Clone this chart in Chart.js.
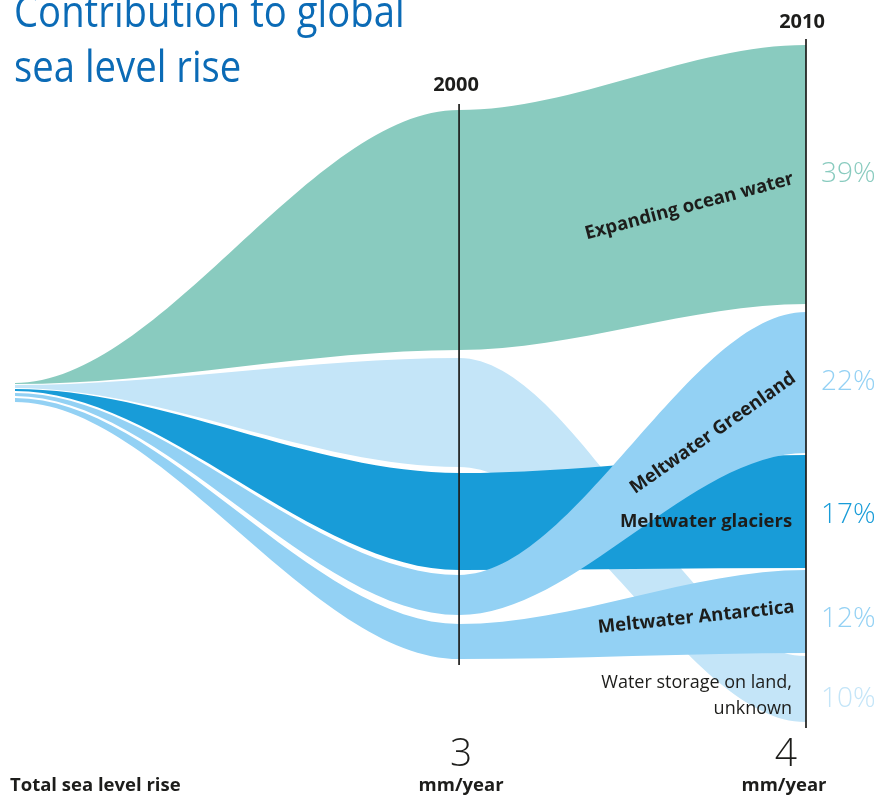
<!DOCTYPE html>
<html lang="en">
<head>
<meta charset="utf-8">
<title>Contribution to global sea level rise</title>
<script src="https://cdn.jsdelivr.net/npm/chart.js@4.4.1/dist/chart.umd.min.js"></script>
<style>
    html, body { margin: 0; padding: 0; background: #fff; }
    #wrap { position: relative; width: 882px; height: 799px; overflow: hidden; font-family: "Open Sans", "Noto Sans", sans-serif; color: #1d1d1b; }
    #chartBox { position: absolute; left: 0; top: 0; width: 882px; height: 799px; }
    .lbl { position: absolute; white-space: nowrap; line-height: 1; }
    .title { left: 14px; top: -17px; color: #0b6bb6; font-size: 43px; line-height: 55px; transform: scaleX(0.89); transform-origin: 0 0; }
    .note { text-align: right; font-size: 18px; line-height: 26px; }
</style>
</head>
<body>
<div id="wrap">
    <div id="chartBox"><canvas id="chartFlow"></canvas></div>
    <div class="lbl title">Contribution to global<br>sea level rise</div>
</div>
<script>
const fanYear = 1987.2;              // where the total splits into its parts
const years = [2000, 2010];
const totals = ['3', '4'];
const unit = 'mm/year';
const shares2010 = ['39%', '22%', '17%', '12%', '10%'];

// band edges in mm/year, 0 = foot of the 2010 column
// values at the split, in 2000 and in 2010
const oceanTop         = [2.003, 3.616, 4.000];
const oceanBottom      = [1.997, 2.198, 2.470];
const landTop          = [1.991, 2.151, 0.390];
const landBottom       = [1.973, 1.507, 0.000];
const glaciersTop      = [1.967, 1.471, 1.578];
const glaciersBottom   = [1.956, 0.898, 0.910];
const greenlandTop     = [1.944, 0.869, 2.422];
const greenlandBottom  = [1.926, 0.632, 1.589];
const antarcticaTop    = [1.914, 0.579, 0.898];
const antarcticaBottom = [1.891, 0.372, 0.408];

const wrap = document.getElementById('wrap');

// first band is painted last (on top)
const bands = [
    { name: 'Meltwater Greenland', top: greenlandTop, bottom: greenlandBottom, color: '#93d1f4' },
    { name: 'Meltwater Antarctica', top: antarcticaTop, bottom: antarcticaBottom, color: '#93d1f4' },
    { name: 'Meltwater glaciers', top: glaciersTop, bottom: glaciersBottom, color: '#189cd8' },
    { name: 'Expanding ocean water', top: oceanTop, bottom: oceanBottom, color: '#89cbbf' },
    { name: 'Water storage on land, unknown', top: landTop, bottom: landBottom, color: '#c4e5f8' }
];

// every value is given twice so the curve leaves and reaches it level
const stages = [fanYear, ...years];
const edge = vals => stages.flatMap((x, i) => [{ x, y: vals[i] }, { x, y: vals[i] }]);

const lineBase = { borderWidth: 0, borderColor: 'transparent', pointRadius: 0, cubicInterpolationMode: 'monotone' };

const datasets = bands.flatMap((b, i) => [
    { ...lineBase, label: b.name + ' (top)', data: edge(b.top), fill: false },
    { ...lineBase, label: b.name, data: edge(b.bottom), fill: 2 * i, backgroundColor: b.color }
]);

const allEdges = bands.flatMap(b => [b.top, b.bottom]);

const markerLines = {
    id: 'markerLines',
    afterDatasetsDraw(chart) {
        const { ctx, scales: { x, y } } = chart;
        ctx.save();
        ctx.strokeStyle = '#1d1d1b';
        ctx.lineWidth = 1.7;
        years.forEach((yr, i) => {
            const px = x.getPixelForValue(yr);
            const hi = Math.max(...allEdges.map(e => e[i + 1]));
            const lo = Math.min(...allEdges.map(e => e[i + 1]));
            ctx.beginPath();
            ctx.moveTo(px, y.getPixelForValue(hi) - 6);
            ctx.lineTo(px, y.getPixelForValue(lo) + 6);
            ctx.stroke();
        });
        ctx.restore();
    }
};

const chart = new Chart(document.getElementById('chartFlow'), {
    type: 'line',
    data: { datasets },
    options: {
        responsive: true, maintainAspectRatio: false,
        animation: false, events: [],
        layout: { padding: { left: 15, right: 76, top: 45, bottom: 77 } },
        plugins: { legend: { display: false }, tooltip: { enabled: false } },
        scales: {
            x: { type: 'linear', display: false, min: fanYear, max: 2010 },
            y: { display: false, min: 0, max: 4 }
        }
    },
    plugins: [markerLines]
});

function place(text, o) {
    const el = document.createElement('div');
    el.className = 'lbl' + (o.cls ? ' ' + o.cls : '');
    el.textContent = text;
    const tx = o.align === 'left' ? '0' : o.align === 'right' ? '-100%' : '-50%';
    Object.assign(el.style, {
        left: o.x + 'px', top: o.y + 'px',
        fontSize: o.size + 'px', fontWeight: o.weight || 400,
        color: o.color || '#1d1d1b',
        transform: `translate(${tx}, -50%) rotate(${o.rotate || 0}deg)`
    });
    wrap.appendChild(el);
    return el;
}

const xs = chart.scales.x;

// year headers, totals and units
place(String(years[0]), { x: xs.getPixelForValue(years[0]) - 3, y: 84, size: 20, weight: 700 });
place(String(years[1]), { x: xs.getPixelForValue(years[1]) - 4, y: 21, size: 20, weight: 700 });
place(totals[0], { x: xs.getPixelForValue(years[0]) + 2, y: 750, size: 39, weight: 300 });
place(totals[1], { x: xs.getPixelForValue(years[1]) - 20, y: 750, size: 39, weight: 300 });
place(unit, { x: xs.getPixelForValue(years[0]) + 2, y: 784, size: 18.5, weight: 700 });
place(unit, { x: xs.getPixelForValue(years[1]) - 22, y: 784, size: 18.5, weight: 700 });
place('Total sea level rise', { x: 10, y: 784, size: 18.5, weight: 700, align: 'left' });

// band names
place('Expanding ocean water', { x: 689, y: 205, size: 18.5, weight: 700, rotate: -15 });
place('Meltwater Greenland', { x: 712, y: 432, size: 18.5, weight: 700, rotate: -35 });
place('Meltwater glaciers', { x: 706, y: 520, size: 18.5, weight: 700 });
place('Meltwater Antarctica', { x: 696, y: 616, size: 18.5, weight: 700, rotate: -6 });
const note = place('', { x: 792, y: 694, size: 18, align: 'right', cls: 'note' });
note.innerHTML = 'Water storage on land,<br>unknown';

// 2010 shares
const shareColors = ['#89cbbf', '#93d1f4', '#189cd8', '#93d1f4', '#c4e5f8'];
const shareY = [171, 379, 512, 616, 696];
shares2010.forEach((s, i) => place(s, { x: 821, y: shareY[i], size: 28, weight: 300, color: shareColors[i], align: 'left' }));
</script>
</body>
</html>
